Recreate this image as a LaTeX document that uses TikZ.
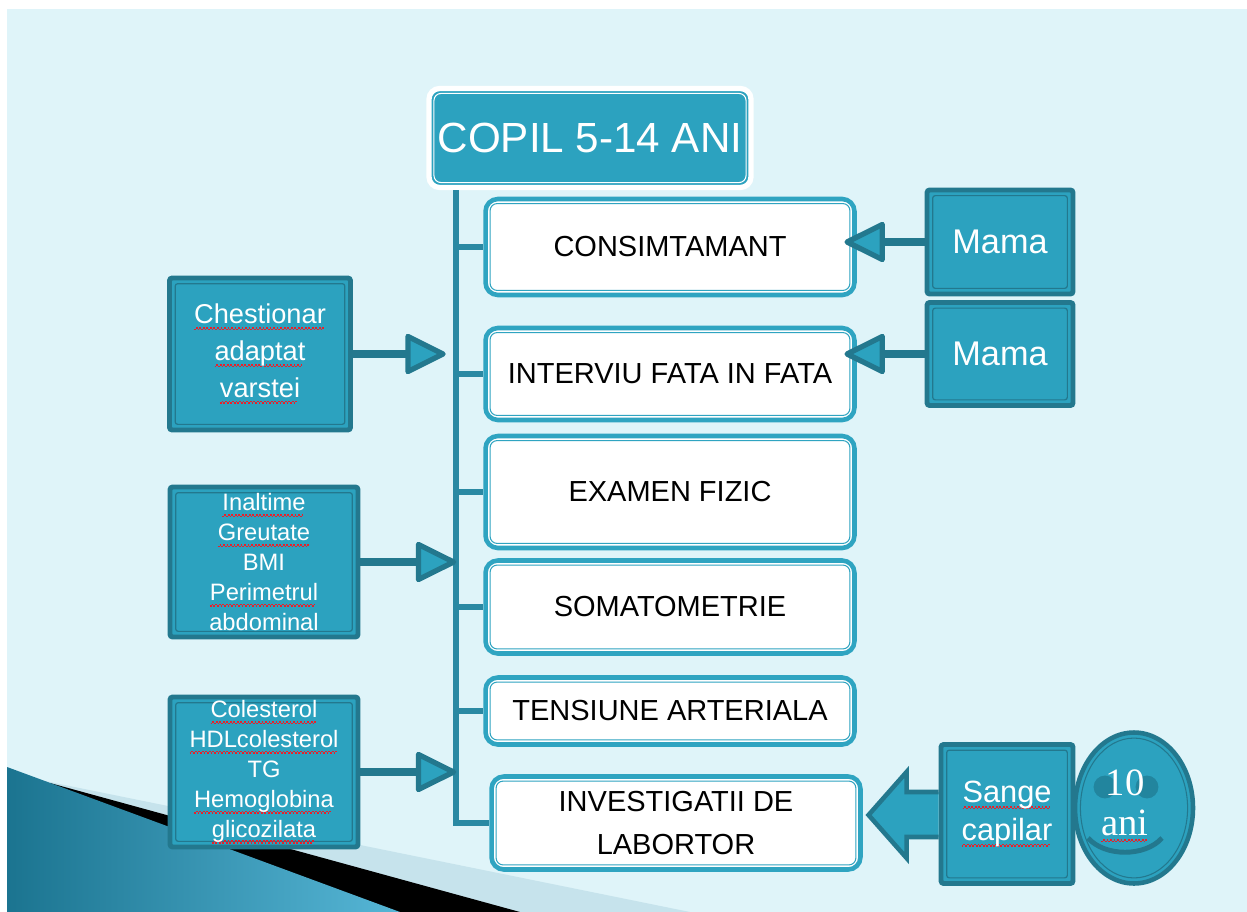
\documentclass[tikz,border=0pt]{standalone}
\usepackage{fontspec}
\setmainfont{Liberation Sans}
\newfontfamily\agefont{Liberation Serif}
\usetikzlibrary{calc,positioning}
\usetikzlibrary{arrows.meta,shapes.geometric}
\definecolor{bgcyan}{HTML}{DFF4F9}
\definecolor{tealfill}{HTML}{2CA2BF}
\definecolor{tealdark}{HTML}{23788E}
\definecolor{boxedge}{HTML}{2FA4C1}
\definecolor{treeteal}{HTML}{2A89A3}
\definecolor{eyeteal}{HTML}{22859E}
\definecolor{lightband}{HTML}{C6E3EC}
\definecolor{wedgedark}{HTML}{1B7490}
\definecolor{wedgelight}{HTML}{56B6D6}
\definecolor{typored}{HTML}{E8202A}
\newcommand\typo[1]{\leavevmode\setbox0\hbox{#1}\rlap{\textcolor{typored}{\hbox to\wd0{\leaders\hbox{\rule[-3.7pt]{1pt}{0.9pt}\rule[-2.8pt]{1pt}{0.9pt}}\hfill}}}\box0}

\begin{document}
\begin{tikzpicture}[x=0.02cm,y=-0.02cm,
hub/.style={draw=white,line width=3pt,fill=tealfill,rounded corners=6pt,text=white,inner sep=0pt,font=\fontsize{24}{28}\selectfont,minimum width=6.44cm,minimum height=1.98cm,path picture={\draw[white,line width=0.6pt,rounded corners=4pt]([shift={(2.8pt,2.8pt)}]path picture bounding box.south west) rectangle ([shift={(-2.8pt,-2.8pt)}]path picture bounding box.north east);}},
wbox/.style={draw=boxedge,line width=2.6pt,fill=white,rounded corners=7pt,inner sep=0pt,align=center,font=\fontsize{16.5}{24}\selectfont,minimum width=7.38cm,path picture={\draw[boxedge,line width=0.6pt,rounded corners=4pt]([shift={(2.6pt,2.6pt)}]path picture bounding box.south west) rectangle ([shift={(-2.6pt,-2.6pt)}]path picture bounding box.north east);}},
dbox/.style={draw=tealdark,line width=2.8pt,fill=tealfill,rounded corners=1.5pt,text=white,inner sep=0pt,align=center,path picture={\draw[tealdark,line width=0.7pt]([shift={(3.2pt,3.2pt)}]path picture bounding box.south west) rectangle ([shift={(-3.2pt,-3.2pt)}]path picture bounding box.north east);}},
fat/.style={draw=tealdark,line width=5pt,-{Triangle[round,length=25pt,width=24pt,fill=tealfill,line width=3pt]}},
tree/.style={draw=treeteal,line width=3.4pt}]
\useasboundingbox (0,0) rectangle (1247,912);
\fill[white] (0,0) rectangle (1247,912);
\fill[bgcyan] (7,9) rectangle (1247,912);
\fill[lightband] (40,780) -- (690,912) -- (7,912) -- cycle;
\fill[black] (50,783) -- (520,912) -- (7,912) -- cycle;
\shade[left color=wedgedark,right color=wedgelight] (7,767) -- (400,912) -- (7,912) -- cycle;

\node[hub] (copil) at (590,138) {COPIL 5-14 ANI};
\node[wbox,minimum height=1.92cm] (c1) at (670,247) {CONSIMTAMANT};
\node[wbox,minimum height=1.84cm] (c2) at (670,374) {INTERVIU FATA IN FATA};
\node[wbox,minimum height=2.24cm] (c3) at (670,492) {EXAMEN FIZIC};
\node[wbox,minimum height=1.86cm] (c4) at (670,607) {SOMATOMETRIE};
\node[wbox,minimum height=1.34cm] (c5) at (670,711) {TENSIUNE ARTERIALA};
\node[wbox,minimum height=1.86cm] (c6) at (676,823) {INVESTIGATII DE\\LABORTOR};

\node[dbox,minimum width=3.62cm,minimum height=3.04cm,font=\fontsize{15.5}{21}\selectfont] (quest) at (260,354) {\typo{Chestionar}\\\typo{adaptat}\\\typo{varstei}};
\node[dbox,minimum width=3.76cm,minimum height=3cm,font=\fontsize{13.5}{17}\selectfont] (somat) at (264,562) {\typo{Inaltime}\\\typo{Greutate}\\BMI\\\typo{Perimetrul}\\abdominal};
\node[dbox,minimum width=3.76cm,minimum height=3cm,font=\fontsize{13.5}{17}\selectfont] (labs) at (264,772) {\typo{Colesterol}\\\typo{HDLcolesterol}\\TG\\\typo{Hemoglobina}\\\typo{glicozilata}};

\node[dbox,minimum width=2.92cm,minimum height=2.08cm,font=\fontsize{19.5}{24}\selectfont] (mama1) at (1000,242) {Mama};
\node[dbox,minimum width=2.92cm,minimum height=2.06cm,font=\fontsize{19.5}{24}\selectfont] (mama2) at (1000,354) {Mama};
\node[dbox,minimum width=2.64cm,minimum height=2.78cm,font=\fontsize{17.5}{21.5}\selectfont] (blood) at (1007,814) {\typo{Sange}\\\typo{capilar}};

\node[ellipse,draw=tealdark,line width=2.6pt,fill=tealfill,minimum width=2.36cm,minimum height=3.02cm,inner sep=0pt,path picture={\draw[tealdark,line width=0.6pt] (path picture bounding box.center) ellipse [x radius=30.5pt,y radius=39.8pt];}] (age) at (1134,808) {};
\fill[eyeteal] (1105,787) circle [radius=6.5pt];
\fill[eyeteal] (1147,787) circle [radius=6.5pt];
\draw[tealdark,line width=2.8pt] (1088,838) .. controls (1105,857) and (1145,857) .. (1162,838);
\node[text=white,font=\agefont\fontsize{22}{23}\selectfont,align=center,inner sep=0pt] (agetxt) at (1125,806) {10\\\typo{ani}};

\coordinate (trunk) at ([xshift=17pt]copil.south west);
\draw[tree] (trunk) |- (c6.west);
\foreach \c in {c1,c2,c3,c4,c5} \draw[tree] (trunk |- \c.west) -- (\c.west);

\draw[fat,shorten >=6pt] (quest.east) -- (quest.east -| trunk);
\draw[fat] (somat.east) -- (somat.east -| trunk);
\draw[fat] (labs.east) -- (labs.east -| trunk);
\draw[fat,shorten >=-7pt] (mama1.west) -- (mama1.west -| c1.east);
\draw[fat,shorten >=-7pt] (mama2.west) -- (mama2.west -| c2.east);
\filldraw[draw=tealdark,fill=tealfill,line width=2.6pt,line join=miter] ($(blood.west)+(0,-22)$) -- ++(-32,0) -- ++(0,-20) -- ++(-38,43) -- ++(38,43) -- ++(0,-21) -- ++(32,0);
\end{tikzpicture}
\end{document}
